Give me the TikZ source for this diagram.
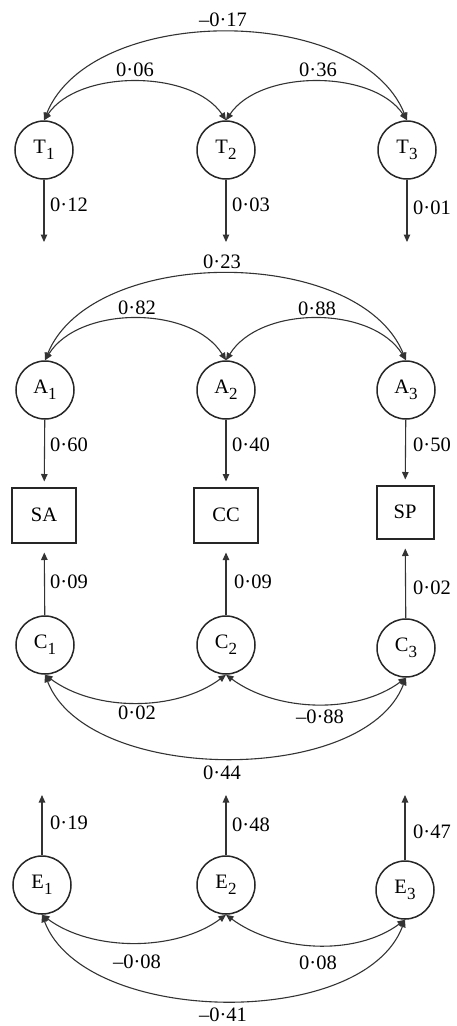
\documentclass[tikz,border=0pt]{standalone}
\usepackage{fontspec}
\setmainfont{Liberation Serif}
\usetikzlibrary{arrows.meta}
\newcommand\lsub[1]{\raisebox{-6pt}{\fontsize{17}{17}\selectfont #1}}
\begin{document}
\begin{tikzpicture}[x=1pt,y=-1pt,
  font=\fontsize{20.5}{23}\selectfont,
  lat/.style={circle,draw=black!85,line width=1.5pt,minimum size=58pt,inner sep=0pt},
  obs/.style={rectangle,draw=black!85,line width=2pt,minimum width=64pt,minimum height=55pt,inner sep=0pt},
  pth/.style={draw=black!80,line width=1.1pt,-{Triangle[length=7.5pt,width=6.5pt]}},
  cov/.style={draw=black!80,line width=1.1pt,{Triangle[length=7.5pt,width=6.5pt]}-{Triangle[length=7.5pt,width=6.5pt]}},
  lab/.style={inner sep=0pt},
  rlab/.style={inner sep=0pt,anchor=west}]
\useasboundingbox (0,0) rectangle (457,1026);

% ---- T row
\node[lat] (T1) at (44,150) {T\lsub{1}};
\node[lat] (T2) at (226,150) {T\lsub{2}};
\node[lat] (T3) at (407,150) {T\lsub{3}};
\coordinate (t1) at (44,242);
\coordinate (t2) at (226,242);
\coordinate (t3) at (407,242);
\draw[pth] (T1) -- (t1);
\draw[pth] (T2) -- (t2);
\draw[pth] (T3) -- (t3);
\draw[cov] (T1.north) .. controls +(34,-51) and +(-34,-51) .. (T2.north);
\draw[cov] (T2.north) .. controls +(34,-51) and +(-34,-51) .. (T3.north);
\draw[cov] (T1.north) .. controls +(47,-117) and +(-47,-117) .. (T3.north);
\node[lab] (lt12) at (135,70) {0·06};
\node[lab] (lt23) at (318,70) {0·36};
\node[lab] (lt13) at (223,20) {–0·17};
\node[rlab] (lt1) at (50,205) {0·12};
\node[rlab] (lt2) at (232,205) {0·03};
\node[rlab] (lt3) at (413,208) {0·01};

% ---- A row
\node[lat] (A1) at (45,390) {A\lsub{1}};
\node[lat] (A2) at (226,390) {A\lsub{2}};
\node[lat] (A3) at (406,390) {A\lsub{3}};
\node[obs] (SA) at (44,515) {SA};
\node[obs] (CC) at (226,515) {CC};
\node[obs,minimum width=57pt,minimum height=53pt] (SP) at (405,512) {SP};
\draw[pth,shorten >=5pt] (A1) -- (SA);
\draw[pth,shorten >=5pt] (A2) -- (CC);
\draw[pth,shorten >=5pt] (A3) -- (SP);
\draw[cov] (A1.north) .. controls +(34,-55) and +(-34,-55) .. (A2.north);
\draw[cov] (A2.north) .. controls +(34,-55) and +(-34,-55) .. (A3.north);
\draw[cov] (A1.north) .. controls +(47,-115) and +(-47,-115) .. (A3.north);
\node[lab] (la12) at (137,308) {0·82};
\node[lab] (la23) at (317,309) {0·88};
\node[lab] (la13) at (222,262) {0·23};
\node[rlab] (la1) at (50,445) {0·60};
\node[rlab] (la2) at (232,445) {0·40};
\node[rlab] (la3) at (413,445) {0·50};

% ---- C row
\node[lat] (C1) at (45,645) {C\lsub{1}};
\node[lat] (C2) at (226,645) {C\lsub{2}};
\node[lat] (C3) at (406,648) {C\lsub{3}};
\draw[pth,shorten >=9pt] (C1) -- (SA);
\draw[pth,shorten >=9pt] (C2) -- (CC);
\draw[pth,shorten >=9pt] (C3) -- (SP);
\draw[cov] (C1.south) .. controls +(50,37) and +(-50,37) .. (C2.south);
\draw[cov] (C2.south) .. controls +(50,37) and +(-50,37) .. (C3.south);
\draw[cov] (C1.south) .. controls +(42,109) and +(-42,109) .. (C3.south);
\node[lab] (lc12) at (137,713) {0·02};
\node[lab] (lc23) at (320,717) {–0·88};
\node[lab] (lc13) at (222,773) {0·44};
\node[rlab] (lc1) at (50,582) {0·09};
\node[rlab] (lc2) at (234,582) {0·09};
\node[rlab] (lc3) at (413,588) {0·02};

% ---- E row
\node[lat] (E1) at (42,885) {E\lsub{1}};
\node[lat] (E2) at (226,885) {E\lsub{2}};
\node[lat] (E3) at (405,890) {E\lsub{3}};
\coordinate (e1) at (42,795);
\coordinate (e2) at (226,795);
\coordinate (e3) at (405,795);
\draw[pth] (E1) -- (e1);
\draw[pth] (E2) -- (e2);
\draw[pth] (E3) -- (e3);
\draw[cov] (E1.south) .. controls +(50,37) and +(-50,37) .. (E2.south);
\draw[cov] (E2.south) .. controls +(50,37) and +(-50,37) .. (E3.south);
\draw[cov] (E1.south) .. controls +(42,111) and +(-42,111) .. (E3.south);
\node[lab] (le12) at (137,962) {–0·08};
\node[lab] (le23) at (318,963) {0·08};
\node[lab] (le13) at (223,1015) {–0·41};
\node[rlab] (le1) at (50,823) {0·19};
\node[rlab] (le2) at (232,825) {0·48};
\node[rlab] (le3) at (413,832) {0·47};
\end{tikzpicture}
\end{document}
